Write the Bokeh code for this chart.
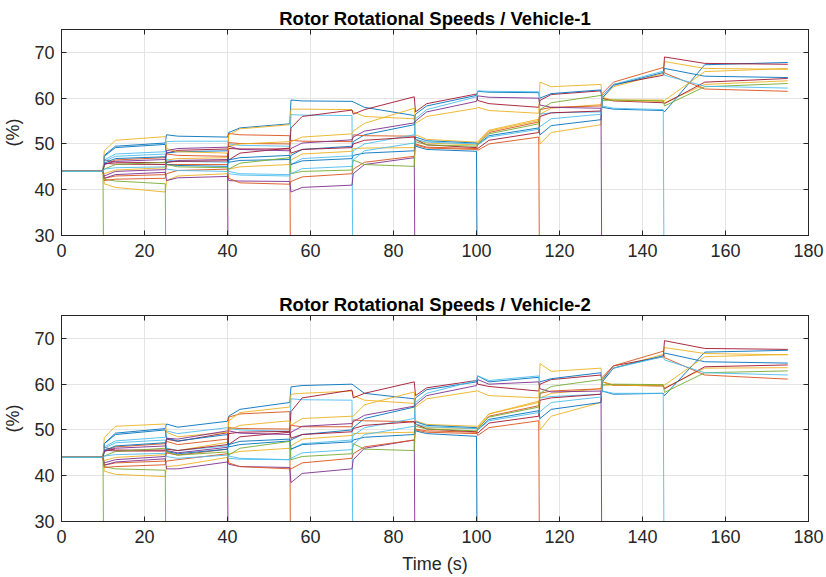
from bokeh.plotting import figure
from bokeh.layouts import column
from bokeh.models import LinearAxis, Range1d, FixedTicker, ColumnDataSource
from bokeh.embed import file_html
from bokeh.resources import INLINE

# ---------------- data ----------------
TITLES = ["Rotor Rotational Speeds / Vehicle-1", "Rotor Rotational Speeds / Vehicle-2"]
X_LABEL = "Time (s)"
Y_LABEL = "(%)"
X_TICKS = [0, 20, 40, 60, 80, 100, 120, 140, 160, 180]
Y_TICKS = [30, 40, 50, 60, 70]
COLORS = ["#0072BD", "#D95319", "#EDB120", "#7E2F8E", "#77AC30", "#4DBEEE", "#A2142F"]

# segment boundaries (s): a rotor is lost at each of 10, 25, ..., 145
SEG_BOUNDS = [0, 10, 25, 40, 55, 70, 85, 100, 115, 130, 145, 175]
# time offsets (s) after each segment start at which the values below were read
START_OFFSET = 0.3
KNEE_OFFSETS = [0, 3, 3, 3, 3, 3, 3, 3, 3, 3, 10]
INITIAL_SPEED = 44.0
FAILED_SPEED = 0.0
# time of failure of each rotor (None = survives)
FAIL_TIMES = [100, 55, None, 40, 10, 70, None, None, 115, None,
              85, 25, 145, None, None, None, None, 130, None, None]

# per rotor, per segment: (value just after step, value at knee, value at segment end)
V1_R00 = [(47.5,49.5,50.2),(52.0,51.7,51.5),(52.5,53.5,54.4),(59.6,59.4,59.3),(59.2,58.0,56.2),(49.5,48.8,48.4)]
V1_R01 = [(42.5,43.0,43.3),(45.5,45.5,45.5),(52.3,52.0,51.8)]
V1_R02 = [(43.5,44.3,44.8),(46.5,46.8,47.0),(52.0,53.3,54.2),(57.6,57.6,57.5),(57.0,56.0,55.5),(52.0,51.0,50.4),(50.3,52.8,55.1),(56.5,57.8,58.6),(59.8,59.6,59.6),(59.0,63.0,63.8)]
V1_R03 = [(43.0,44.0,44.4),(46.0,46.4,46.6)]
V1_R04 = []
V1_R05 = [(46.5,47.8,48.3),(50.5,50.6,50.6),(50.0,49.7,49.5),(56.4,56.3,56.2)]
V1_R06 = [(46.5,46.0,45.9),(48.0,48.6,48.9),(46.5,48.0,49.1),(53.5,56.0,57.4),(56.5,57.5,60.3),(57.0,58.8,60.9),(59.5,58.8,58.0),(59.5,60.8,61.6),(60.0,59.4,59.0),(58.8,63.5,64.3)]
V1_R07 = [(47.3,49.2,49.9),(48.0,48.3,48.5),(46.0,46.4,46.6),(47.5,48.8,49.5),(50.5,52.0,54.2),(56.5,58.3,60.6),(61.5,61.3,61.2),(60.0,61.0,61.8),(58.0,57.6,57.3),(57.0,67.3,67.8)]
V1_R08 = [(45.5,46.5,47.0),(47.8,47.5,47.3),(50.3,50.1,50.0),(50.8,50.6,50.5),(52.0,51.8,51.7),(50.0,49.3,49.0),(48.6,50.0,51.5)]
V1_R09 = [(41.3,40.5,39.5),(42.0,43.0,43.5),(44.5,45.0,45.5),(46.5,47.8,48.4),(49.0,49.1,49.2),(51.0,50.2,49.8),(50.5,53.0,55.4),(50.0,52.5,54.2),(60.0,62.5,65.4),(68.0,66.5,66.3)]
V1_R10 = [(42.5,43.3,43.8),(42.0,42.6,42.9),(42.0,41.9,41.8),(39.5,40.5,41.0),(43.5,45.5,47.0)]
V1_R11 = [(42.3,41.9,41.3)]
V1_R12 = [(46.2,47.3,47.8),(46.5,46.2,46.0),(44.0,43.5,43.3),(45.5,46.8,47.4),(48.5,50.0,52.0),(55.5,57.5,60.3),(61.6,61.5,61.4),(56.5,56.8,57.0),(58.3,57.8,57.5)]
V1_R13 = [(45.8,45.6,45.5),(46.0,46.2,46.3),(49.0,48.9,48.9),(48.0,48.8,49.2),(50.0,50.8,51.5),(51.0,49.8,49.2),(49.0,50.8,52.5),(56.0,56.8,57.2),(60.5,63.0,65.0),(69.0,67.6,67.4)]
V1_R14 = [(45.8,46.8,47.2),(45.5,45.3,45.1),(46.5,47.0,47.5),(45.5,46.3,46.8),(47.5,48.0,48.5),(51.5,50.7,50.2),(49.8,51.8,53.5),(52.0,54.0,55.3),(60.0,62.8,65.6),(66.5,64.8,64.5)]
V1_R15 = [(42.0,42.3,42.5),(43.5,44.2,44.5),(42.5,41.5,41.2),(41.8,42.8,43.5),(44.5,46.0,47.3),(49.8,49.1,48.8),(50.0,52.5,54.8),(57.5,58.0,58.3),(61.0,63.5,66.7),(65.5,62.0,61.5)]
V1_R16 = [(48.5,50.8,51.6),(49.0,48.3,48.0),(49.5,50.0,50.5),(50.5,51.5,52.2),(52.8,54.5,57.8),(54.5,56.0,57.8),(58.0,57.3,56.7),(63.5,62.5,63.0),(60.2,59.5,59.3),(59.5,65.8,66.5)]
V1_R17 = [(45.5,46.2,46.6),(48.5,49.0,49.3),(49.5,48.8,48.5),(49.0,50.2,50.9),(51.5,52.8,54.6),(55.0,57.0,59.3),(60.5,60.2,60.0),(58.5,58.0,57.8)]
V1_R18 = [(44.5,45.5,46.0),(45.5,45.0,44.8),(44.5,45.8,47.0),(43.5,44.0,44.3),(46.5,45.5,45.1),(50.5,49.8,49.5),(50.0,52.2,54.4),(57.5,59.0,60.6),(59.5,59.6,59.4),(58.3,62.5,63.2)]
V1_R19 = [(44.5,44.8,45.0),(44.5,44.2,44.0),(43.5,43.2,43.0),(43.5,44.6,45.1),(46.5,48.5,50.2),(51.0,50.4,50.0),(49.8,51.5,53.2),(53.8,55.5,56.5),(60.5,63.0,65.9),(65.0,62.6,62.2)]

V2_R00 = [(47.0,49.3,50.3),(51.3,50.6,51.9),(53.0,54.5,56.0),(59.4,59.7,60.0),(59.8,58.0,56.8),(49.8,49.2,48.6)]
V2_R01 = [(42.3,42.8,43.2),(45.0,44.5,45.8),(52.8,53.5,54.0)]
V2_R02 = [(43.3,44.0,44.6),(46.0,45.5,47.3),(52.0,53.8,55.0),(57.8,58.0,58.5),(57.5,56.5,55.8),(52.0,51.2,50.8),(50.5,53.5,56.0),(57.0,58.0,59.0),(59.8,59.8,59.8),(59.2,63.5,63.6)]
V2_R03 = [(42.8,43.5,44.2),(45.5,45.0,46.2)]
V2_R04 = []
V2_R05 = [(46.3,47.6,48.4),(49.8,49.2,50.5),(50.3,50.0,49.7),(56.8,56.6,56.5)]
V2_R06 = [(46.2,45.6,45.6),(48.0,47.5,49.4),(46.8,48.5,49.5),(54.0,57.0,58.7),(57.0,58.0,60.5),(57.5,59.2,60.8),(60.0,59.5,58.5),(60.0,61.0,62.0),(60.5,59.8,59.6),(59.0,63.8,64.2)]
V2_R07 = [(47.0,49.0,50.0),(48.2,47.6,49.0),(46.3,46.8,47.6),(47.8,49.0,50.0),(50.5,52.5,55.0),(57.0,58.8,60.5),(61.8,60.5,61.5),(60.5,61.2,62.5),(58.5,57.8,58.0),(57.5,67.0,67.4)]
V2_R08 = [(45.3,46.3,47.0),(47.5,46.8,48.0),(50.5,50.3,50.2),(51.0,50.7,50.7),(52.2,52.0,51.8),(50.2,49.8,49.5),(48.8,50.5,52.0)]
V2_R09 = [(41.0,40.3,39.8),(42.0,42.2,44.0),(44.8,45.3,46.0),(46.5,48.0,48.8),(49.2,49.3,49.5),(51.2,50.5,50.3),(50.8,53.5,56.3),(50.0,53.0,56.0),(60.5,63.5,66.5),(68.0,66.7,66.4)]
V2_R10 = [(42.3,43.0,43.7),(41.5,41.5,43.0),(42.5,42.0,41.8),(38.5,40.5,41.5),(43.5,46.0,47.8)]
V2_R11 = [(42.0,41.5,41.2)]
V2_R12 = [(46.0,47.2,47.8),(46.0,45.5,46.5),(44.3,43.8,43.5),(45.8,47.0,47.8),(48.8,50.5,52.5),(56.0,58.0,60.8),(61.8,60.8,61.8),(57.0,57.3,57.8),(58.5,58.0,58.0)]
V2_R13 = [(45.6,45.4,45.4),(45.8,45.5,46.8),(49.2,49.5,49.7),(48.2,49.0,49.6),(50.3,51.0,51.8),(51.3,50.2,49.6),(49.3,51.5,53.0),(56.5,57.0,57.8),(61.0,64.0,66.0),(69.5,67.8,67.6)]
V2_R14 = [(45.5,46.5,47.2),(45.3,44.8,45.8),(46.8,47.5,48.0),(45.8,46.8,47.4),(47.8,48.4,49.0),(51.8,51.0,50.5),(50.0,52.3,54.2),(52.5,54.5,56.0),(60.5,63.5,66.2),(66.8,64.9,64.6)]
V2_R15 = [(41.8,42.0,42.4),(43.2,43.5,44.8),(42.8,42.0,41.5),(41.5,42.8,43.8),(44.8,46.3,47.8),(50.0,49.5,49.2),(50.2,53.0,55.3),(58.0,58.5,59.0),(61.5,64.0,67.2),(65.8,62.0,61.1)]
V2_R16 = [(48.3,50.8,51.3),(49.5,48.5,49.5),(50.0,51.0,52.0),(51.0,52.5,53.0),(53.0,55.5,58.3),(55.0,56.8,58.5),(58.5,57.5,57.0),(64.5,62.8,63.5),(60.5,59.8,59.6),(59.8,66.0,66.5)]
V2_R17 = [(45.3,46.0,46.5),(48.2,48.0,49.8),(49.8,49.3,49.0),(49.5,50.8,51.4),(51.8,53.2,55.2),(55.5,57.5,59.7),(61.0,60.0,60.5),(59.0,58.3,58.5)]
V2_R18 = [(44.3,45.3,46.0),(45.2,44.5,45.2),(44.5,46.0,47.5),(43.5,44.2,44.8),(47.0,45.8,45.5),(50.8,50.2,49.8),(50.3,52.8,55.0),(58.0,59.5,61.0),(59.8,60.0,59.9),(58.2,62.5,62.9)]
V2_R19 = [(44.3,44.6,44.9),(44.2,43.8,44.5),(43.8,43.6,43.5),(43.8,45.0,45.7),(46.8,49.0,50.8),(51.3,50.7,50.3),(50.0,52.0,53.8),(54.0,56.0,57.2),(61.0,63.5,66.0),(65.3,62.5,62.0)]

VEHICLE_1 = [V1_R00, V1_R01, V1_R02, V1_R03, V1_R04, V1_R05, V1_R06, V1_R07, V1_R08, V1_R09,
             V1_R10, V1_R11, V1_R12, V1_R13, V1_R14, V1_R15, V1_R16, V1_R17, V1_R18, V1_R19]
VEHICLE_2 = [V2_R00, V2_R01, V2_R02, V2_R03, V2_R04, V2_R05, V2_R06, V2_R07, V2_R08, V2_R09,
             V2_R10, V2_R11, V2_R12, V2_R13, V2_R14, V2_R15, V2_R16, V2_R17, V2_R18, V2_R19]

# ---------------- styling ----------------
FONT = "Liberation Sans"
AX_COLOR = "#262626"
GRID_COLOR = "#e4e4e4"


def rotor_trace(segs, fail):
    t = [SEG_BOUNDS[0], SEG_BOUNDS[1]]
    v = [INITIAL_SPEED, INITIAL_SPEED]
    for k, (s, kn, e) in enumerate(segs, start=1):
        ts, te = SEG_BOUNDS[k], SEG_BOUNDS[k + 1]
        t += [ts + START_OFFSET, ts + KNEE_OFFSETS[k], te]
        v += [s, kn, e]
    if fail is not None:
        t.append(fail + START_OFFSET)
        v.append(FAILED_SPEED)
    return t, v


def style_axis(ax, labels=True):
    ax.axis_line_color = AX_COLOR
    ax.major_tick_line_color = AX_COLOR
    ax.major_tick_in = 5
    ax.major_tick_out = 0
    ax.minor_tick_line_color = None
    ax.major_label_text_font = FONT
    ax.major_label_text_font_size = "18px"
    ax.major_label_text_color = AX_COLOR
    if not labels:
        ax.major_label_text_font_size = "1px"
        ax.major_label_text_color = None
        ax.major_label_standoff = 0


def make_fig(title, data, height, top, bottom, xlabel):
    p = figure(width=826, height=height, x_range=Range1d(0, 180), y_range=Range1d(30, 75),
               output_backend="svg", toolbar_location=None,
               min_border_left=59, min_border_right=18,
               min_border_top=top, min_border_bottom=bottom)
    p.title.text = title
    p.title.align = "center"
    p.title.text_font = FONT
    p.title.text_font_size = "18.5px"
    p.title.text_font_style = "bold"
    p.title.text_color = "#000000"
    p.title.standoff = 1

    xs, ys, cols = [], [], []
    for i, segs in enumerate(data):
        t, v = rotor_trace(segs, FAIL_TIMES[i])
        xs.append(t)
        ys.append(v)
        cols.append(COLORS[i % len(COLORS)])
    src = ColumnDataSource(dict(xs=xs, ys=ys, color=cols))
    p.multi_line("xs", "ys", line_color="color", line_width=1, line_alpha=0.9, source=src)

    p.xaxis.ticker = FixedTicker(ticks=X_TICKS)
    p.yaxis.ticker = FixedTicker(ticks=Y_TICKS)
    style_axis(p.xaxis[0])
    style_axis(p.yaxis[0])
    p.xaxis.major_label_standoff = 8
    p.yaxis.major_label_standoff = 7
    p.yaxis.axis_label = Y_LABEL
    p.yaxis.axis_label_text_font = FONT
    p.yaxis.axis_label_text_font_size = "18px"
    p.yaxis.axis_label_text_font_style = "normal"
    p.yaxis.axis_label_text_color = AX_COLOR
    p.yaxis.axis_label_standoff = 8
    if xlabel:
        p.xaxis.axis_label = xlabel
        p.xaxis.axis_label_text_font = FONT
        p.xaxis.axis_label_text_font_size = "18px"
        p.xaxis.axis_label_text_font_style = "normal"
        p.xaxis.axis_label_text_color = AX_COLOR
        p.xaxis.axis_label_standoff = 8

    right = LinearAxis(ticker=FixedTicker(ticks=Y_TICKS))
    style_axis(right, labels=False)
    p.add_layout(right, "right")
    above = LinearAxis(ticker=FixedTicker(ticks=X_TICKS))
    style_axis(above, labels=False)
    p.add_layout(above, "above")

    p.xgrid.grid_line_color = GRID_COLOR
    p.ygrid.grid_line_color = GRID_COLOR
    p.outline_line_color = AX_COLOR
    p.background_fill_color = "white"
    p.border_fill_color = "white"
    return p


p1 = make_fig(TITLES[0], VEHICLE_1, 282, 29, 47, None)
p2 = make_fig(TITLES[1], VEHICLE_2, 295, 33, 56, X_LABEL)
layout = column(p1, p2, spacing=0)

open("out.html", "w").write(file_html(layout, INLINE))
